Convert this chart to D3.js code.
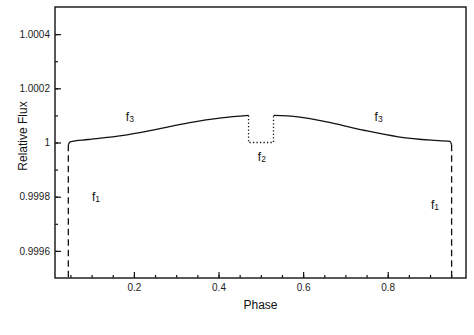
<!DOCTYPE html>
<html>
<head>
<meta charset="utf-8">
<script src="https://cdn.jsdelivr.net/npm/d3@7"></script>
<style>
  body { margin: 0; background: #fff; }
  text { font-family: "Liberation Sans", Arial, Helvetica, sans-serif; fill: #111; }
</style>
</head>
<body>
<svg width="474" height="335"></svg>
<script>
// out-of-transit curve, before and after the dip (f3)
var phaseLeft = [0.045, 0.049, 0.092, 0.171, 0.250, 0.329, 0.407, 0.471];
var fluxLeft = [0.999992, 1.0000026, 1.000011, 1.0000257, 1.0000477, 1.0000723, 1.0000906, 1.0001];
var phaseRight = [0.530, 0.588, 0.667, 0.746, 0.825, 0.903, 0.947, 0.951];
var fluxRight = [1.0001, 1.0000948, 1.0000727, 1.0000443, 1.000021, 1.0000085, 1.0000045, 0.999992];

// the dip (f2), dotted
var phaseDip = [0.471, 0.471, 0.530, 0.530];
var fluxDip = [1.0001, 1.0, 1.0, 1.0001];

// the eclipse edges (f1), dashed
var phaseEdgeL = [0.045, 0.045];
var phaseEdgeR = [0.951, 0.951];
var fluxEdge = [0.999992, 0.9995];

var xTicks = [0.2, 0.4, 0.6, 0.8];
var yTicks = [0.9996, 0.9998, 1, 1.0002, 1.0004];
var yTickLabels = ["0.9996", "0.9998", "1", "1.0002", "1.0004"];

// labels: name, subscript, phase, flux
var labels = [
  ["f", "3", 0.181, 1.000079],
  ["f", "3", 0.769, 1.000079],
  ["f", "2", 0.493, 0.999932],
  ["f", "1", 0.101, 0.999784],
  ["f", "1", 0.902, 0.999755]
];

var svg = d3.select("svg"),
    margin = {top: 7, right: 8, bottom: 57, left: 55},
    width = +svg.attr("width") - margin.left - margin.right,
    height = +svg.attr("height") - margin.top - margin.bottom;

var g = svg.append("g").attr("transform", "translate(" + margin.left + "," + margin.top + ")");

var x = d3.scaleLinear().domain([0.0135, 0.985]).range([0, width]);
var y = d3.scaleLinear().domain([0.9995, 1.0005]).range([height, 0]);

// minor ticks
var xMinor = d3.range(0.05, 0.981, 0.05);
var yMinor = d3.range(0, 10).map(function (i) { return 0.9995 + i * 0.0001; }).filter(function (v) { return v > 0.99951; });

g.append("g")
    .attr("transform", "translate(0," + height + ")")
    .call(d3.axisBottom(x).tickValues(xMinor).tickSize(-3).tickSizeOuter(0).tickFormat(""))
    .call(function (a) { a.select(".domain").remove(); });
g.append("g")
    .call(d3.axisLeft(y).tickValues(yMinor).tickSize(-3).tickSizeOuter(0).tickFormat(""))
    .call(function (a) { a.select(".domain").remove(); });

// major ticks
var xAxis = g.append("g")
    .attr("transform", "translate(0," + height + ")")
    .call(d3.axisBottom(x).tickValues(xTicks).tickSize(-6).tickSizeOuter(0).tickPadding(6)
        .tickFormat(d3.format(".1f")));
xAxis.select(".domain").remove();
xAxis.selectAll("text").attr("font-size", 10).style("fill", "#222");

var yAxis = g.append("g")
    .call(d3.axisLeft(y).tickValues(yTicks).tickSize(-6).tickSizeOuter(0).tickPadding(5)
        .tickFormat(function (d, i) { return yTickLabels[i]; }));
yAxis.select(".domain").remove();
yAxis.selectAll("text").attr("font-size", 10).style("fill", "#222");

g.selectAll(".tick line").attr("stroke", "#111").attr("stroke-width", 1.2);

// frame
g.append("rect")
    .attr("width", width)
    .attr("height", height)
    .attr("fill", "none")
    .attr("stroke", "#222")
    .attr("stroke-width", 1.5);

var line = d3.line()
    .x(function (d) { return x(d[0]); })
    .y(function (d) { return y(d[1]); });
var smooth = d3.line()
    .x(function (d) { return x(d[0]); })
    .y(function (d) { return y(d[1]); })
    .curve(d3.curveMonotoneX);

function pairs(a, b) { return a.map(function (v, i) { return [v, b[i]]; }); }

// f3
g.append("path")
    .attr("d", smooth(pairs(phaseLeft, fluxLeft)))
    .attr("fill", "none").attr("stroke", "#111").attr("stroke-width", 1.3);
g.append("path")
    .attr("d", smooth(pairs(phaseRight, fluxRight)))
    .attr("fill", "none").attr("stroke", "#111").attr("stroke-width", 1.3);

// f2
g.append("path")
    .attr("d", line(pairs(phaseDip, fluxDip)))
    .attr("fill", "none").attr("stroke", "#111").attr("stroke-width", 1.3)
    .attr("stroke-dasharray", "1.3,2.2");

// f1
[phaseEdgeL, phaseEdgeR].forEach(function (p) {
    g.append("path")
        .attr("d", line(pairs(p, fluxEdge)))
        .attr("fill", "none").attr("stroke", "#111").attr("stroke-width", 1.3)
        .attr("stroke-dasharray", "6.5,4");
});

// labels
labels.forEach(function (l) {
    var t = g.append("text")
        .attr("x", x(l[2]))
        .attr("y", y(l[3]))
        .attr("font-size", 12);
    t.append("tspan").text(l[0]);
    t.append("tspan").attr("font-size", 8.5).attr("dy", 1).text(l[1]);
});

// axis titles
svg.append("text")
    .attr("x", margin.left + width / 2)
    .attr("y", 309)
    .attr("text-anchor", "middle")
    .attr("font-size", 12)
    .text("Phase");

svg.append("text")
    .attr("transform", "translate(27," + 136 + ") rotate(-90)")
    .attr("text-anchor", "middle")
    .attr("font-size", 12)
    .text("Relative Flux");
</script>
</body>
</html>
